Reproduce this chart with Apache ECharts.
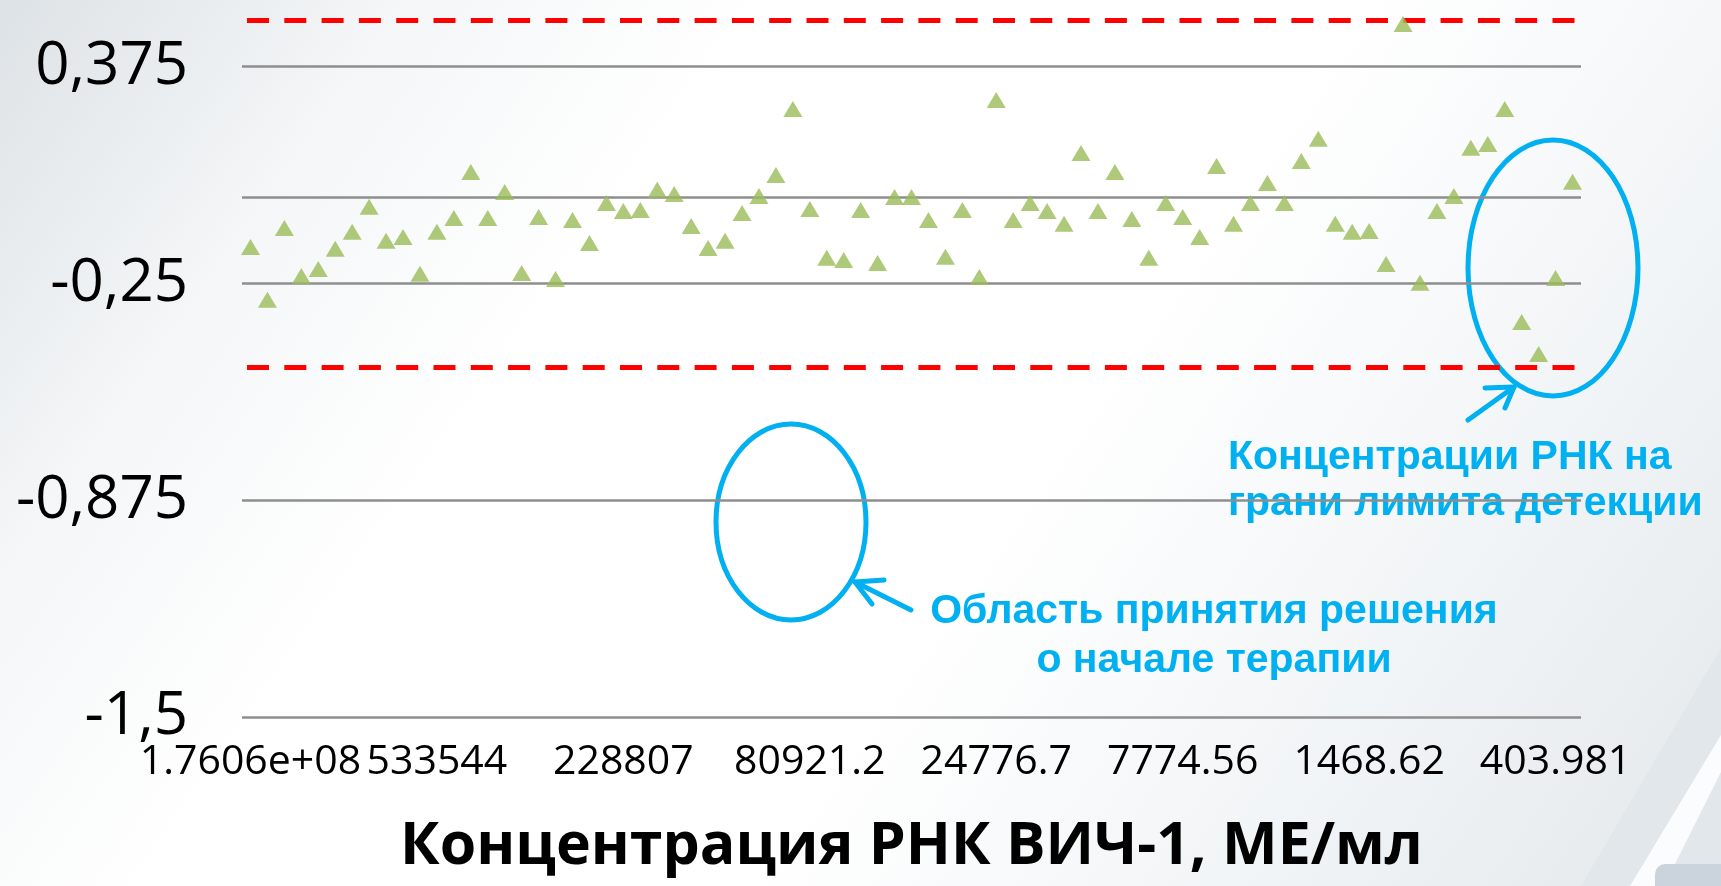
<!DOCTYPE html>
<html>
<head>
<meta charset="utf-8">
<title>Концентрация РНК ВИЧ-1</title>
<script src="https://cdn.jsdelivr.net/npm/echarts@6/dist/echarts.min.js"></script>
<style>
  html, body { margin: 0; padding: 0; }
  body {
    width: 1721px;
    height: 886px;
    overflow: hidden;
    background: linear-gradient(125deg, #dde2e6 0%, #f4f6f7 17%, #ffffff 33%, #ffffff 58%, #f1f4f6 80%, #e3e8ec 100%);
  }
  #chart { width: 1721px; height: 886px; }
</style>
</head>
<body>
<div id="chart"></div>
<script>
// подписи оси X (показана каждая 11-я проба)
const tickLabels = ['1.7606e+08', '533544', '228807', '80921.2', '24776.7', '7774.56', '1468.62', '403.981'];
const labelStep = 11;

// отклонение по каждой пробе, слева направо
const deviation = [
  -0.145, -0.297, -0.090, -0.228, -0.208, -0.150, -0.101, -0.029, -0.127, -0.116,
  -0.222, -0.101, -0.061,  0.071, -0.061,  0.014, -0.220, -0.058, -0.237, -0.067,
  -0.133, -0.018, -0.041, -0.038,  0.020,  0.008, -0.084, -0.148, -0.127, -0.047,
   0.002,  0.063,  0.253, -0.035, -0.176, -0.182, -0.038, -0.191, -0.001, -0.001,
  -0.067, -0.173, -0.038, -0.231,  0.279, -0.067, -0.018, -0.041, -0.078,  0.126,
  -0.041,  0.071, -0.064, -0.176, -0.018, -0.058, -0.116,  0.089, -0.078, -0.018,
   0.040, -0.018,  0.103,  0.167, -0.078, -0.101, -0.099, -0.194,  0.498, -0.248,
  -0.041,  0.002,  0.141,  0.152,  0.253, -0.361, -0.453, -0.234,  0.043
];

// номера проб (категории оси X)
const samples = deviation.map((v, i) => String(i));

// границы допустимого отклонения (красный пунктир)
const upperLimit = 0.512;
const lowerLimit = -0.49;

// видимая часть оси Y (верх картинки обрезан)
const yMin = -1.5;
const yMax = 0.567;
const yStep = 0.625;

const blue = '#00B0F0';

const chart = echarts.init(document.getElementById('chart'));

const option = {
  backgroundColor: 'transparent',
  animation: false,
  grid: {
    left: 242,
    right: 140,
    top: 0,
    bottom: 168.7
  },
  xAxis: {
    type: 'category',
    data: samples,
    boundaryGap: true,
    axisLine: { show: false, onZero: false },
    axisTick: { show: false },
    axisLabel: {
      interval: labelStep - 1,
      margin: 25,
      fontFamily: 'Open Sans',
      fontSize: 41,
      color: '#000',
      formatter: (v, idx) => tickLabels[idx / labelStep] || ''
    },
    splitLine: { show: false },
    name: 'Концентрация РНК ВИЧ-1, МЕ/мл',
    nameLocation: 'middle',
    nameGap: 100,
    nameTextStyle: {
      fontFamily: 'Open Sans',
      fontWeight: 'bold',
      fontSize: 59,
      lineHeight: 60,
      color: '#000'
    }
  },
  yAxis: {
    type: 'value',
    min: yMin,
    max: yMax,
    interval: yStep,
    axisLine: { show: false },
    axisTick: { show: false },
    axisLabel: {
      margin: 54,
      showMaxLabel: false,
      fontFamily: 'Open Sans',
      fontSize: 60,
      color: '#000',
      formatter: v => String(v).replace('.', ',')
    },
    splitLine: {
      showMaxLine: false,
      lineStyle: { color: '#8e8e8e', width: 2.5 }
    }
  },
  series: [
    {
      type: 'scatter',
      data: deviation.map((v, i) => [i, v]),
      symbol: 'triangle',
      symbolSize: [19, 16],
      itemStyle: { color: '#9BBB59' },
      z: 5,
      markLine: {
        silent: true,
        symbol: 'none',
        label: { show: false },
        data: [
          { yAxis: 0, lineStyle: { color: '#8e8e8e', width: 2.5, type: 'solid' } },
          { yAxis: upperLimit, lineStyle: { color: '#ff0000', width: 5, type: [22, 15.3], dashOffset: -5 } },
          { yAxis: lowerLimit, lineStyle: { color: '#ff0000', width: 5, type: [22, 15.3], dashOffset: -5 } }
        ]
      }
    }
  ],
  graphic: [
    // фон слайда — декоративный элемент справа внизу
    {
      type: 'polygon', silent: true, z: -10,
      shape: { points: [[1721, 648], [1721, 886], [1581, 886]] },
      style: { fill: '#e2e7ec' }
    },
    {
      type: 'polygon', silent: true, z: -9,
      shape: { points: [[1721, 735], [1721, 772], [1664, 886], [1630, 886]] },
      style: { fill: '#fbfcfd' }
    },
    {
      type: 'rect', silent: true, z: -8,
      shape: { x: 1655, y: 864, width: 80, height: 40, r: 10 },
      style: { fill: '#cbd4dc' }
    },
    // область принятия решения
    {
      type: 'ellipse', silent: true,
      shape: { cx: 791, cy: 522, rx: 75, ry: 98 },
      style: { fill: 'none', stroke: blue, lineWidth: 5 }
    },
    {
      type: 'polyline', silent: true,
      shape: { points: [[911, 610], [855, 582]] },
      style: { stroke: blue, lineWidth: 5, lineCap: 'round' }
    },
    {
      type: 'polyline', silent: true,
      shape: { points: [[884, 580], [855, 582], [872, 604]] },
      style: { stroke: blue, lineWidth: 5, lineCap: 'round', lineJoin: 'round', fill: 'none' }
    },
    {
      type: 'text', silent: true,
      style: {
        x: 1214, y: 587,
        text: 'Область принятия решения\nо начале терапии',
        font: 'bold 41px "Liberation Sans", Arial, sans-serif',
        lineHeight: 49,
        align: 'center',
        verticalAlign: 'top',
        fill: blue
      }
    },
    // концентрации на грани лимита детекции
    {
      type: 'ellipse', silent: true,
      shape: { cx: 1553, cy: 268, rx: 85, ry: 128 },
      style: { fill: 'none', stroke: blue, lineWidth: 5 }
    },
    {
      type: 'polyline', silent: true,
      shape: { points: [[1468, 420], [1514, 387]] },
      style: { stroke: blue, lineWidth: 5, lineCap: 'round' }
    },
    {
      type: 'polyline', silent: true,
      shape: { points: [[1485, 388], [1514, 387], [1505, 408]] },
      style: { stroke: blue, lineWidth: 5, lineCap: 'round', lineJoin: 'round', fill: 'none' }
    },
    {
      type: 'text', silent: true,
      style: {
        x: 1228, y: 435,
        text: 'Концентрации РНК на\nграни лимита детекции',
        font: 'bold 41px "Liberation Sans", Arial, sans-serif',
        lineHeight: 46,
        align: 'left',
        verticalAlign: 'top',
        fill: blue
      }
    }
  ]
};

chart.setOption(option);
</script>
</body>
</html>
